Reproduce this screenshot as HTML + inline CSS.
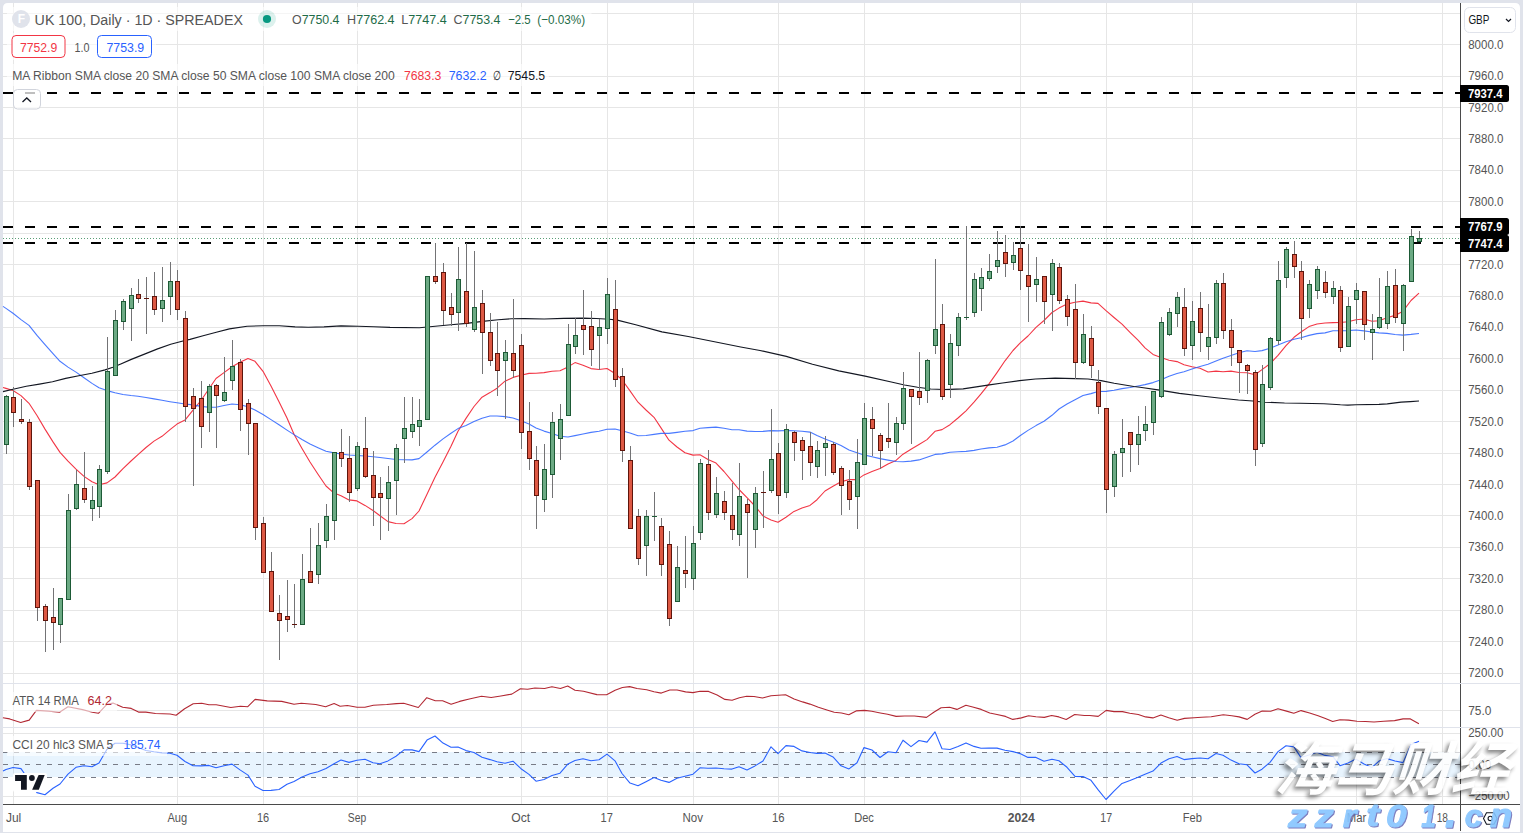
<!DOCTYPE html>
<html><head><meta charset="utf-8"><title>UK 100 chart</title><style>
html,body{margin:0;padding:0;}
body{width:1523px;height:833px;background:#e0e3eb;position:relative;overflow:hidden;}
svg{position:absolute;left:0;top:0;}
</style></head><body>
<svg width="1523" height="833" viewBox="0 0 1523 833">
<path d="M3 832V8Q3 3 8 3H1515Q1520 3 1520 8V832Z" fill="#fff"/>
<g shape-rendering="crispEdges">
<rect x="13" y="3" width="1" height="801" fill="#e6e6e6"/>
<rect x="177" y="3" width="1" height="801" fill="#e6e6e6"/>
<rect x="263" y="3" width="1" height="801" fill="#e6e6e6"/>
<rect x="357" y="3" width="1" height="801" fill="#e6e6e6"/>
<rect x="521" y="3" width="1" height="801" fill="#e6e6e6"/>
<rect x="607" y="3" width="1" height="801" fill="#e6e6e6"/>
<rect x="693" y="3" width="1" height="801" fill="#e6e6e6"/>
<rect x="778" y="3" width="1" height="801" fill="#e6e6e6"/>
<rect x="864" y="3" width="1" height="801" fill="#e6e6e6"/>
<rect x="1020" y="3" width="1" height="801" fill="#e6e6e6"/>
<rect x="1106" y="3" width="1" height="801" fill="#e6e6e6"/>
<rect x="1192" y="3" width="1" height="801" fill="#e6e6e6"/>
<rect x="1356" y="3" width="1" height="801" fill="#e6e6e6"/>
<rect x="1442" y="3" width="1" height="801" fill="#e6e6e6"/>
<rect x="3" y="13" width="1457" height="1" fill="#e6e6e6"/>
<rect x="3" y="44" width="1457" height="1" fill="#e6e6e6"/>
<rect x="3" y="76" width="1457" height="1" fill="#e6e6e6"/>
<rect x="3" y="107" width="1457" height="1" fill="#e6e6e6"/>
<rect x="3" y="138" width="1457" height="1" fill="#e6e6e6"/>
<rect x="3" y="170" width="1457" height="1" fill="#e6e6e6"/>
<rect x="3" y="201" width="1457" height="1" fill="#e6e6e6"/>
<rect x="3" y="233" width="1457" height="1" fill="#e6e6e6"/>
<rect x="3" y="264" width="1457" height="1" fill="#e6e6e6"/>
<rect x="3" y="296" width="1457" height="1" fill="#e6e6e6"/>
<rect x="3" y="327" width="1457" height="1" fill="#e6e6e6"/>
<rect x="3" y="358" width="1457" height="1" fill="#e6e6e6"/>
<rect x="3" y="390" width="1457" height="1" fill="#e6e6e6"/>
<rect x="3" y="421" width="1457" height="1" fill="#e6e6e6"/>
<rect x="3" y="453" width="1457" height="1" fill="#e6e6e6"/>
<rect x="3" y="484" width="1457" height="1" fill="#e6e6e6"/>
<rect x="3" y="515" width="1457" height="1" fill="#e6e6e6"/>
<rect x="3" y="547" width="1457" height="1" fill="#e6e6e6"/>
<rect x="3" y="578" width="1457" height="1" fill="#e6e6e6"/>
<rect x="3" y="610" width="1457" height="1" fill="#e6e6e6"/>
<rect x="3" y="641" width="1457" height="1" fill="#e6e6e6"/>
<rect x="3" y="673" width="1457" height="1" fill="#e6e6e6"/>
<rect x="3" y="710" width="1457" height="1" fill="#e6e6e6"/>
<rect x="3" y="733" width="1457" height="1" fill="#e6e6e6"/>
<rect x="3" y="796" width="1457" height="1" fill="#e6e6e6"/>
</g>
<rect x="3" y="752" width="1457" height="25" fill="#2196f3" fill-opacity="0.1" shape-rendering="crispEdges"/>
<line x1="3" y1="752.5" x2="1460" y2="752.5" stroke="#787b86" stroke-width="1" stroke-dasharray="5 6" shape-rendering="crispEdges"/>
<line x1="3" y1="764.5" x2="1460" y2="764.5" stroke="#787b86" stroke-width="1" stroke-dasharray="5 6" shape-rendering="crispEdges"/>
<line x1="3" y1="777.5" x2="1460" y2="777.5" stroke="#787b86" stroke-width="1" stroke-dasharray="5 6" shape-rendering="crispEdges"/>
<line x1="3" y1="93" x2="1460" y2="93" stroke="#000" stroke-width="2" stroke-dasharray="10 12" shape-rendering="crispEdges"/>
<line x1="3" y1="227" x2="1460" y2="227" stroke="#000" stroke-width="2" stroke-dasharray="10 12" shape-rendering="crispEdges"/>
<line x1="3" y1="243" x2="1460" y2="243" stroke="#000" stroke-width="2" stroke-dasharray="10 12" shape-rendering="crispEdges"/>
<line x1="3" y1="238.5" x2="1460" y2="238.5" stroke="#5a9e76" stroke-width="1" stroke-dasharray="1 2" shape-rendering="crispEdges"/>
<polyline points="3.0,387.5 6.0,388.4 13.0,390.5 21.0,395.6 29.0,403.3 37.0,415.5 45.0,429.1 53.0,441.9 60.0,452.4 68.0,461.2 76.0,469.2 84.0,476.4 92.0,481.7 99.0,484.7 107.0,482.9 115.0,477.0 123.0,468.7 131.0,461.0 138.0,454.7 146.0,447.5 154.0,441.1 162.0,436.3 170.0,429.7 177.0,424.1 185.0,420.1 193.0,410.2 201.0,400.5 209.0,388.7 216.0,378.5 224.0,372.6 232.0,366.7 240.0,362.2 248.0,358.4 255.0,361.3 263.0,371.3 271.0,385.9 279.0,401.8 287.0,418.0 294.0,434.3 302.0,448.4 310.0,462.0 318.0,474.2 326.0,486.0 334.0,493.1 341.0,495.7 349.0,499.9 357.0,500.9 365.0,505.4 373.0,510.5 380.0,515.8 388.0,521.6 396.0,523.5 404.0,523.7 412.0,518.6 419.0,511.0 427.0,494.3 435.0,477.3 443.0,461.9 451.0,446.3 458.0,431.3 466.0,418.4 474.0,406.5 482.0,397.2 490.0,392.6 497.0,388.2 505.0,381.2 513.0,377.4 521.0,375.3 529.0,373.4 536.0,373.3 544.0,372.6 552.0,371.3 560.0,370.8 568.0,366.9 575.0,362.6 583.0,365.2 591.0,368.6 599.0,369.5 607.0,368.5 615.0,373.5 622.0,379.8 630.0,390.9 638.0,402.2 646.0,410.0 654.0,417.3 661.0,427.9 669.0,440.2 677.0,447.0 685.0,452.7 693.0,455.1 700.0,454.8 708.0,459.4 716.0,463.1 724.0,471.5 732.0,481.2 739.0,489.5 747.0,497.7 755.0,506.0 763.0,515.9 771.0,519.9 778.0,522.2 786.0,517.2 794.0,511.4 802.0,508.1 810.0,505.4 817.0,499.7 825.0,491.0 833.0,486.2 841.0,481.8 849.0,479.6 857.0,479.6 864.0,474.9 872.0,471.6 880.0,468.5 888.0,464.0 896.0,460.4 903.0,454.2 911.0,449.3 919.0,444.5 927.0,439.6 935.0,431.3 942.0,429.6 950.0,424.7 958.0,418.0 966.0,410.8 974.0,402.2 981.0,393.9 989.0,383.9 997.0,372.6 1005.0,360.8 1013.0,350.5 1020.0,343.1 1028.0,336.0 1036.0,327.4 1044.0,320.5 1052.0,312.5 1059.0,308.1 1067.0,304.1 1075.0,302.3 1083.0,301.1 1091.0,302.9 1098.0,303.4 1106.0,310.7 1114.0,317.5 1122.0,324.1 1130.0,332.3 1138.0,340.2 1145.0,347.9 1153.0,354.4 1161.0,357.4 1169.0,360.2 1177.0,361.6 1184.0,364.7 1192.0,366.8 1200.0,368.3 1208.0,372.0 1216.0,371.1 1223.0,371.8 1231.0,371.1 1239.0,372.5 1247.0,372.7 1255.0,374.8 1262.0,369.6 1270.0,363.8 1278.0,355.4 1286.0,345.7 1294.0,337.3 1301.0,332.0 1309.0,326.6 1317.0,324.0 1325.0,323.0 1333.0,322.6 1340.0,322.5 1348.0,321.8 1356.0,319.7 1364.0,319.0 1372.0,321.3 1379.0,320.7 1387.0,317.7 1395.0,315.4 1403.0,311.2 1411.0,300.5 1419.0,293.2" fill="none" stroke="#f23645" stroke-width="1.1" stroke-linejoin="round"/>
<polyline points="3.0,306.4 6.0,308.4 13.0,313.2 21.0,319.6 29.0,325.4 37.0,335.4 45.0,344.7 53.0,353.7 60.0,361.3 68.0,367.1 76.0,372.1 84.0,377.7 92.0,383.4 99.0,387.8 107.0,390.6 115.0,392.7 123.0,394.5 131.0,395.5 138.0,396.2 146.0,397.5 154.0,398.9 162.0,400.3 170.0,401.7 177.0,402.8 185.0,404.0 193.0,404.9 201.0,406.4 209.0,407.2 216.0,407.2 224.0,405.5 232.0,404.0 240.0,404.8 248.0,406.8 255.0,410.1 263.0,414.5 271.0,419.6 279.0,424.8 287.0,430.1 294.0,434.6 302.0,439.5 310.0,444.0 318.0,447.7 326.0,451.3 334.0,452.9 341.0,454.0 349.0,455.0 357.0,455.5 365.0,456.0 373.0,456.8 380.0,457.5 388.0,458.5 396.0,459.5 404.0,459.8 412.0,459.9 419.0,458.6 427.0,452.0 435.0,445.2 443.0,438.9 451.0,433.2 458.0,428.6 466.0,425.4 474.0,421.6 482.0,418.2 490.0,416.0 497.0,416.0 505.0,416.6 513.0,418.0 521.0,420.8 529.0,424.0 536.0,427.9 544.0,431.1 552.0,433.5 560.0,436.3 568.0,437.0 575.0,435.6 583.0,434.0 591.0,432.4 599.0,431.3 607.0,429.2 615.0,429.0 622.0,430.7 630.0,433.0 638.0,435.7 646.0,435.5 654.0,434.4 661.0,433.4 669.0,433.4 677.0,432.4 685.0,431.3 693.0,430.6 700.0,428.2 708.0,427.6 716.0,427.1 724.0,428.3 732.0,429.7 739.0,429.8 747.0,431.1 755.0,431.5 763.0,431.4 771.0,430.6 778.0,430.9 786.0,430.5 794.0,430.8 802.0,431.3 810.0,432.1 817.0,435.6 825.0,438.9 833.0,442.1 841.0,445.5 849.0,449.9 857.0,452.7 864.0,454.9 872.0,456.8 880.0,458.6 888.0,460.1 896.0,461.5 903.0,461.8 911.0,461.1 919.0,459.9 927.0,457.2 935.0,454.4 942.0,453.9 950.0,452.3 958.0,451.8 966.0,451.4 974.0,450.4 981.0,449.0 989.0,447.9 997.0,447.2 1005.0,444.9 1013.0,441.0 1020.0,435.8 1028.0,430.4 1036.0,425.6 1044.0,421.3 1052.0,415.3 1059.0,409.0 1067.0,404.0 1075.0,399.7 1083.0,395.5 1091.0,393.6 1098.0,391.5 1106.0,391.4 1114.0,390.2 1122.0,388.6 1130.0,387.5 1138.0,386.0 1145.0,384.6 1153.0,382.6 1161.0,379.8 1169.0,376.2 1177.0,373.5 1184.0,371.7 1192.0,369.1 1200.0,366.5 1208.0,364.2 1216.0,361.0 1223.0,358.2 1231.0,355.4 1239.0,352.7 1247.0,350.8 1255.0,351.5 1262.0,350.6 1270.0,348.3 1278.0,345.1 1286.0,341.7 1294.0,339.2 1301.0,337.7 1309.0,335.4 1317.0,333.6 1325.0,332.9 1333.0,330.7 1340.0,330.8 1348.0,330.6 1356.0,330.0 1364.0,330.9 1372.0,332.0 1379.0,332.9 1387.0,333.4 1395.0,334.5 1403.0,335.1 1411.0,334.4 1419.0,333.5" fill="none" stroke="#2962ff" stroke-width="1.1" stroke-opacity="0.85" stroke-linejoin="round"/>
<polyline points="3.0,391.6 13.1,389.2 26.3,386.3 39.4,384.1 52.5,381.7 65.7,378.4 78.8,375.8 91.9,373.2 105.1,369.9 112.9,367.3 120.8,364.0 131.3,359.4 144.5,354.1 157.6,348.9 170.7,344.3 183.9,340.7 190.0,339.4 203.1,335.7 216.3,332.2 229.4,328.9 247.1,326.3 263.5,325.7 279.3,325.7 295.1,326.9 308.2,327.2 324.0,326.9 341.0,325.9 358.1,326.3 373.8,326.7 390.0,327.4 419.4,327.8 435.2,326.3 450.9,324.7 466.7,323.4 482.4,321.4 498.2,319.7 511.3,318.8 524.5,318.6 544.2,319.0 563.8,318.4 583.1,318.1 596.3,318.5 609.4,319.2 617.3,320.1 635.7,324.7 661.9,331.9 688.2,336.5 714.5,341.8 740.7,347.0 760.0,350.5 786.3,356.4 812.5,364.3 838.8,370.9 865.1,376.1 891.3,382.0 904.5,385.0 917.6,387.3 930.7,389.0 943.8,389.5 950.0,389.4 963.1,388.9 976.3,386.9 989.4,384.9 1002.5,383.0 1019.6,380.6 1035.4,379.0 1055.1,378.1 1074.8,378.6 1087.9,379.0 1101.0,380.6 1114.2,383.2 1133.8,386.5 1140.0,387.2 1159.7,390.1 1179.4,393.4 1199.1,395.7 1218.8,398.0 1238.5,400.0 1252.9,401.0 1264.8,402.2 1284.5,403.0 1300.0,403.2 1323.9,403.7 1340.4,404.8 1347.8,405.1 1356.1,404.8 1379.0,404.4 1387.3,403.9 1401.1,402.1 1410.3,401.6 1419.0,401.0" fill="none" stroke="#131722" stroke-width="1.15" stroke-linejoin="round"/>
<g shape-rendering="crispEdges">
<rect x="6" y="395" width="1" height="59" fill="#737375"/>
<rect x="4" y="396" width="5" height="49" fill="#1d5a36"/>
<rect x="5" y="397" width="3" height="47" fill="#6caa84"/>
<rect x="13" y="387" width="1" height="40" fill="#737375"/>
<rect x="11" y="397" width="5" height="16" fill="#5e150c"/>
<rect x="12" y="398" width="3" height="14" fill="#dd5843"/>
<rect x="21" y="399" width="1" height="25" fill="#737375"/>
<rect x="19" y="419" width="5" height="3" fill="#5e150c"/>
<rect x="20" y="420" width="3" height="1" fill="#dd5843"/>
<rect x="29" y="419" width="1" height="71" fill="#737375"/>
<rect x="27" y="422" width="5" height="65" fill="#5e150c"/>
<rect x="28" y="423" width="3" height="63" fill="#dd5843"/>
<rect x="37" y="480" width="1" height="141" fill="#737375"/>
<rect x="35" y="480" width="5" height="128" fill="#5e150c"/>
<rect x="36" y="481" width="3" height="126" fill="#dd5843"/>
<rect x="45" y="604" width="1" height="48" fill="#737375"/>
<rect x="43" y="606" width="5" height="15" fill="#5e150c"/>
<rect x="44" y="607" width="3" height="13" fill="#dd5843"/>
<rect x="53" y="588" width="1" height="62" fill="#737375"/>
<rect x="51" y="617" width="5" height="6" fill="#5e150c"/>
<rect x="52" y="618" width="3" height="4" fill="#dd5843"/>
<rect x="60" y="598" width="1" height="45" fill="#737375"/>
<rect x="58" y="598" width="5" height="27" fill="#1d5a36"/>
<rect x="59" y="599" width="3" height="25" fill="#6caa84"/>
<rect x="68" y="494" width="1" height="106" fill="#737375"/>
<rect x="66" y="510" width="5" height="90" fill="#1d5a36"/>
<rect x="67" y="511" width="3" height="88" fill="#6caa84"/>
<rect x="76" y="470" width="1" height="40" fill="#737375"/>
<rect x="74" y="484" width="5" height="25" fill="#1d5a36"/>
<rect x="75" y="485" width="3" height="23" fill="#6caa84"/>
<rect x="84" y="452" width="1" height="51" fill="#737375"/>
<rect x="82" y="488" width="5" height="12" fill="#5e150c"/>
<rect x="83" y="489" width="3" height="10" fill="#dd5843"/>
<rect x="92" y="486" width="1" height="35" fill="#737375"/>
<rect x="90" y="500" width="5" height="9" fill="#1d5a36"/>
<rect x="91" y="501" width="3" height="7" fill="#6caa84"/>
<rect x="99" y="465" width="1" height="53" fill="#737375"/>
<rect x="97" y="469" width="5" height="38" fill="#1d5a36"/>
<rect x="98" y="470" width="3" height="36" fill="#6caa84"/>
<rect x="107" y="337" width="1" height="137" fill="#737375"/>
<rect x="105" y="371" width="5" height="101" fill="#1d5a36"/>
<rect x="106" y="372" width="3" height="99" fill="#6caa84"/>
<rect x="115" y="310" width="1" height="66" fill="#737375"/>
<rect x="113" y="320" width="5" height="56" fill="#1d5a36"/>
<rect x="114" y="321" width="3" height="54" fill="#6caa84"/>
<rect x="123" y="299" width="1" height="31" fill="#737375"/>
<rect x="121" y="301" width="5" height="21" fill="#1d5a36"/>
<rect x="122" y="302" width="3" height="19" fill="#6caa84"/>
<rect x="131" y="288" width="1" height="53" fill="#737375"/>
<rect x="129" y="295" width="5" height="14" fill="#1d5a36"/>
<rect x="130" y="296" width="3" height="12" fill="#6caa84"/>
<rect x="138" y="279" width="1" height="24" fill="#737375"/>
<rect x="136" y="294" width="5" height="5" fill="#5e150c"/>
<rect x="137" y="295" width="3" height="3" fill="#dd5843"/>
<rect x="146" y="277" width="1" height="57" fill="#737375"/>
<rect x="144" y="298" width="5" height="1" fill="#5e150c"/>
<rect x="154" y="272" width="1" height="43" fill="#737375"/>
<rect x="152" y="296" width="5" height="14" fill="#5e150c"/>
<rect x="153" y="297" width="3" height="12" fill="#dd5843"/>
<rect x="162" y="267" width="1" height="55" fill="#737375"/>
<rect x="160" y="300" width="5" height="9" fill="#1d5a36"/>
<rect x="161" y="301" width="3" height="7" fill="#6caa84"/>
<rect x="170" y="262" width="1" height="53" fill="#737375"/>
<rect x="168" y="281" width="5" height="16" fill="#1d5a36"/>
<rect x="169" y="282" width="3" height="14" fill="#6caa84"/>
<rect x="177" y="270" width="1" height="50" fill="#737375"/>
<rect x="175" y="281" width="5" height="29" fill="#5e150c"/>
<rect x="176" y="282" width="3" height="27" fill="#dd5843"/>
<rect x="185" y="311" width="1" height="111" fill="#737375"/>
<rect x="183" y="318" width="5" height="89" fill="#5e150c"/>
<rect x="184" y="319" width="3" height="87" fill="#dd5843"/>
<rect x="193" y="388" width="1" height="98" fill="#737375"/>
<rect x="191" y="396" width="5" height="13" fill="#5e150c"/>
<rect x="192" y="397" width="3" height="11" fill="#dd5843"/>
<rect x="201" y="381" width="1" height="67" fill="#737375"/>
<rect x="199" y="398" width="5" height="29" fill="#5e150c"/>
<rect x="200" y="399" width="3" height="27" fill="#dd5843"/>
<rect x="209" y="384" width="1" height="48" fill="#737375"/>
<rect x="207" y="386" width="5" height="27" fill="#1d5a36"/>
<rect x="208" y="387" width="3" height="25" fill="#6caa84"/>
<rect x="216" y="384" width="1" height="64" fill="#737375"/>
<rect x="214" y="385" width="5" height="11" fill="#5e150c"/>
<rect x="215" y="386" width="3" height="9" fill="#dd5843"/>
<rect x="224" y="357" width="1" height="45" fill="#737375"/>
<rect x="222" y="392" width="5" height="9" fill="#1d5a36"/>
<rect x="223" y="393" width="3" height="7" fill="#6caa84"/>
<rect x="232" y="340" width="1" height="50" fill="#737375"/>
<rect x="230" y="366" width="5" height="15" fill="#1d5a36"/>
<rect x="231" y="367" width="3" height="13" fill="#6caa84"/>
<rect x="240" y="359" width="1" height="72" fill="#737375"/>
<rect x="238" y="362" width="5" height="48" fill="#5e150c"/>
<rect x="239" y="363" width="3" height="46" fill="#dd5843"/>
<rect x="248" y="399" width="1" height="56" fill="#737375"/>
<rect x="246" y="403" width="5" height="21" fill="#5e150c"/>
<rect x="247" y="404" width="3" height="19" fill="#dd5843"/>
<rect x="255" y="423" width="1" height="117" fill="#737375"/>
<rect x="253" y="423" width="5" height="105" fill="#5e150c"/>
<rect x="254" y="424" width="3" height="103" fill="#dd5843"/>
<rect x="263" y="517" width="1" height="55" fill="#737375"/>
<rect x="261" y="523" width="5" height="50" fill="#5e150c"/>
<rect x="262" y="524" width="3" height="48" fill="#dd5843"/>
<rect x="271" y="552" width="1" height="60" fill="#737375"/>
<rect x="269" y="571" width="5" height="41" fill="#5e150c"/>
<rect x="270" y="572" width="3" height="39" fill="#dd5843"/>
<rect x="279" y="595" width="1" height="65" fill="#737375"/>
<rect x="277" y="613" width="5" height="8" fill="#5e150c"/>
<rect x="278" y="614" width="3" height="6" fill="#dd5843"/>
<rect x="287" y="580" width="1" height="52" fill="#737375"/>
<rect x="285" y="616" width="5" height="4" fill="#5e150c"/>
<rect x="286" y="617" width="3" height="2" fill="#dd5843"/>
<rect x="294" y="584" width="1" height="44" fill="#737375"/>
<rect x="292" y="624" width="5" height="1" fill="#5e150c"/>
<rect x="302" y="554" width="1" height="70" fill="#737375"/>
<rect x="300" y="579" width="5" height="46" fill="#1d5a36"/>
<rect x="301" y="580" width="3" height="44" fill="#6caa84"/>
<rect x="310" y="528" width="1" height="54" fill="#737375"/>
<rect x="308" y="571" width="5" height="12" fill="#5e150c"/>
<rect x="309" y="572" width="3" height="10" fill="#dd5843"/>
<rect x="318" y="523" width="1" height="61" fill="#737375"/>
<rect x="316" y="545" width="5" height="30" fill="#1d5a36"/>
<rect x="317" y="546" width="3" height="28" fill="#6caa84"/>
<rect x="326" y="504" width="1" height="44" fill="#737375"/>
<rect x="324" y="516" width="5" height="25" fill="#1d5a36"/>
<rect x="325" y="517" width="3" height="23" fill="#6caa84"/>
<rect x="334" y="452" width="1" height="88" fill="#737375"/>
<rect x="332" y="452" width="5" height="69" fill="#1d5a36"/>
<rect x="333" y="453" width="3" height="67" fill="#6caa84"/>
<rect x="341" y="429" width="1" height="38" fill="#737375"/>
<rect x="339" y="452" width="5" height="7" fill="#5e150c"/>
<rect x="340" y="453" width="3" height="5" fill="#dd5843"/>
<rect x="349" y="436" width="1" height="66" fill="#737375"/>
<rect x="347" y="458" width="5" height="35" fill="#5e150c"/>
<rect x="348" y="459" width="3" height="33" fill="#dd5843"/>
<rect x="357" y="442" width="1" height="49" fill="#737375"/>
<rect x="355" y="446" width="5" height="43" fill="#1d5a36"/>
<rect x="356" y="447" width="3" height="41" fill="#6caa84"/>
<rect x="365" y="417" width="1" height="61" fill="#737375"/>
<rect x="363" y="448" width="5" height="29" fill="#5e150c"/>
<rect x="364" y="449" width="3" height="27" fill="#dd5843"/>
<rect x="373" y="451" width="1" height="75" fill="#737375"/>
<rect x="371" y="475" width="5" height="23" fill="#5e150c"/>
<rect x="372" y="476" width="3" height="21" fill="#dd5843"/>
<rect x="380" y="477" width="1" height="63" fill="#737375"/>
<rect x="378" y="493" width="5" height="5" fill="#5e150c"/>
<rect x="379" y="494" width="3" height="3" fill="#dd5843"/>
<rect x="388" y="466" width="1" height="65" fill="#737375"/>
<rect x="386" y="482" width="5" height="17" fill="#1d5a36"/>
<rect x="387" y="483" width="3" height="15" fill="#6caa84"/>
<rect x="396" y="444" width="1" height="71" fill="#737375"/>
<rect x="394" y="448" width="5" height="33" fill="#1d5a36"/>
<rect x="395" y="449" width="3" height="31" fill="#6caa84"/>
<rect x="404" y="397" width="1" height="66" fill="#737375"/>
<rect x="402" y="428" width="5" height="11" fill="#1d5a36"/>
<rect x="403" y="429" width="3" height="9" fill="#6caa84"/>
<rect x="412" y="397" width="1" height="41" fill="#737375"/>
<rect x="410" y="424" width="5" height="8" fill="#1d5a36"/>
<rect x="411" y="425" width="3" height="6" fill="#6caa84"/>
<rect x="419" y="399" width="1" height="47" fill="#737375"/>
<rect x="417" y="420" width="5" height="7" fill="#1d5a36"/>
<rect x="418" y="421" width="3" height="5" fill="#6caa84"/>
<rect x="427" y="276" width="1" height="144" fill="#737375"/>
<rect x="425" y="276" width="5" height="144" fill="#1d5a36"/>
<rect x="426" y="277" width="3" height="142" fill="#6caa84"/>
<rect x="435" y="243" width="1" height="41" fill="#737375"/>
<rect x="433" y="276" width="5" height="6" fill="#5e150c"/>
<rect x="434" y="277" width="3" height="4" fill="#dd5843"/>
<rect x="443" y="263" width="1" height="62" fill="#737375"/>
<rect x="441" y="272" width="5" height="39" fill="#5e150c"/>
<rect x="442" y="273" width="3" height="37" fill="#dd5843"/>
<rect x="451" y="293" width="1" height="33" fill="#737375"/>
<rect x="449" y="307" width="5" height="8" fill="#5e150c"/>
<rect x="450" y="308" width="3" height="6" fill="#dd5843"/>
<rect x="458" y="247" width="1" height="84" fill="#737375"/>
<rect x="456" y="279" width="5" height="34" fill="#1d5a36"/>
<rect x="457" y="280" width="3" height="32" fill="#6caa84"/>
<rect x="466" y="243" width="1" height="84" fill="#737375"/>
<rect x="464" y="291" width="5" height="33" fill="#5e150c"/>
<rect x="465" y="292" width="3" height="31" fill="#dd5843"/>
<rect x="474" y="251" width="1" height="81" fill="#737375"/>
<rect x="472" y="307" width="5" height="23" fill="#1d5a36"/>
<rect x="473" y="308" width="3" height="21" fill="#6caa84"/>
<rect x="482" y="290" width="1" height="84" fill="#737375"/>
<rect x="480" y="303" width="5" height="30" fill="#5e150c"/>
<rect x="481" y="304" width="3" height="28" fill="#dd5843"/>
<rect x="490" y="313" width="1" height="53" fill="#737375"/>
<rect x="488" y="332" width="5" height="29" fill="#5e150c"/>
<rect x="489" y="333" width="3" height="27" fill="#dd5843"/>
<rect x="497" y="322" width="1" height="74" fill="#737375"/>
<rect x="495" y="353" width="5" height="18" fill="#5e150c"/>
<rect x="496" y="354" width="3" height="16" fill="#dd5843"/>
<rect x="505" y="340" width="1" height="79" fill="#737375"/>
<rect x="503" y="352" width="5" height="9" fill="#1d5a36"/>
<rect x="504" y="353" width="3" height="7" fill="#6caa84"/>
<rect x="513" y="299" width="1" height="79" fill="#737375"/>
<rect x="511" y="353" width="5" height="18" fill="#5e150c"/>
<rect x="512" y="354" width="3" height="16" fill="#dd5843"/>
<rect x="521" y="334" width="1" height="115" fill="#737375"/>
<rect x="519" y="345" width="5" height="88" fill="#5e150c"/>
<rect x="520" y="346" width="3" height="86" fill="#dd5843"/>
<rect x="529" y="402" width="1" height="68" fill="#737375"/>
<rect x="527" y="431" width="5" height="28" fill="#5e150c"/>
<rect x="528" y="432" width="3" height="26" fill="#dd5843"/>
<rect x="536" y="446" width="1" height="83" fill="#737375"/>
<rect x="534" y="460" width="5" height="36" fill="#5e150c"/>
<rect x="535" y="461" width="3" height="34" fill="#dd5843"/>
<rect x="544" y="444" width="1" height="68" fill="#737375"/>
<rect x="542" y="469" width="5" height="31" fill="#1d5a36"/>
<rect x="543" y="470" width="3" height="29" fill="#6caa84"/>
<rect x="552" y="412" width="1" height="86" fill="#737375"/>
<rect x="550" y="422" width="5" height="53" fill="#1d5a36"/>
<rect x="551" y="423" width="3" height="51" fill="#6caa84"/>
<rect x="560" y="404" width="1" height="56" fill="#737375"/>
<rect x="558" y="419" width="5" height="20" fill="#1d5a36"/>
<rect x="559" y="420" width="3" height="18" fill="#6caa84"/>
<rect x="568" y="324" width="1" height="91" fill="#737375"/>
<rect x="566" y="344" width="5" height="72" fill="#1d5a36"/>
<rect x="567" y="345" width="3" height="70" fill="#6caa84"/>
<rect x="575" y="318" width="1" height="36" fill="#737375"/>
<rect x="573" y="335" width="5" height="12" fill="#1d5a36"/>
<rect x="574" y="336" width="3" height="10" fill="#6caa84"/>
<rect x="583" y="290" width="1" height="65" fill="#737375"/>
<rect x="581" y="325" width="5" height="5" fill="#5e150c"/>
<rect x="582" y="326" width="3" height="3" fill="#dd5843"/>
<rect x="591" y="311" width="1" height="55" fill="#737375"/>
<rect x="589" y="326" width="5" height="24" fill="#5e150c"/>
<rect x="590" y="327" width="3" height="22" fill="#dd5843"/>
<rect x="599" y="319" width="1" height="51" fill="#737375"/>
<rect x="597" y="327" width="5" height="9" fill="#1d5a36"/>
<rect x="598" y="328" width="3" height="7" fill="#6caa84"/>
<rect x="607" y="278" width="1" height="66" fill="#737375"/>
<rect x="605" y="294" width="5" height="35" fill="#1d5a36"/>
<rect x="606" y="295" width="3" height="33" fill="#6caa84"/>
<rect x="615" y="280" width="1" height="107" fill="#737375"/>
<rect x="613" y="309" width="5" height="71" fill="#5e150c"/>
<rect x="614" y="310" width="3" height="69" fill="#dd5843"/>
<rect x="622" y="368" width="1" height="94" fill="#737375"/>
<rect x="620" y="376" width="5" height="75" fill="#5e150c"/>
<rect x="621" y="377" width="3" height="73" fill="#dd5843"/>
<rect x="630" y="446" width="1" height="82" fill="#737375"/>
<rect x="628" y="460" width="5" height="69" fill="#5e150c"/>
<rect x="629" y="461" width="3" height="67" fill="#dd5843"/>
<rect x="638" y="509" width="1" height="56" fill="#737375"/>
<rect x="636" y="516" width="5" height="43" fill="#5e150c"/>
<rect x="637" y="517" width="3" height="41" fill="#dd5843"/>
<rect x="646" y="510" width="1" height="66" fill="#737375"/>
<rect x="644" y="516" width="5" height="30" fill="#1d5a36"/>
<rect x="645" y="517" width="3" height="28" fill="#6caa84"/>
<rect x="654" y="492" width="1" height="49" fill="#737375"/>
<rect x="652" y="516" width="5" height="1" fill="#1d5a36"/>
<rect x="661" y="518" width="1" height="58" fill="#737375"/>
<rect x="659" y="526" width="5" height="39" fill="#5e150c"/>
<rect x="660" y="527" width="3" height="37" fill="#dd5843"/>
<rect x="669" y="531" width="1" height="95" fill="#737375"/>
<rect x="667" y="544" width="5" height="75" fill="#5e150c"/>
<rect x="668" y="545" width="3" height="73" fill="#dd5843"/>
<rect x="677" y="546" width="1" height="55" fill="#737375"/>
<rect x="675" y="567" width="5" height="35" fill="#1d5a36"/>
<rect x="676" y="568" width="3" height="33" fill="#6caa84"/>
<rect x="685" y="536" width="1" height="52" fill="#737375"/>
<rect x="683" y="570" width="5" height="4" fill="#5e150c"/>
<rect x="684" y="571" width="3" height="2" fill="#dd5843"/>
<rect x="693" y="526" width="1" height="64" fill="#737375"/>
<rect x="691" y="543" width="5" height="36" fill="#1d5a36"/>
<rect x="692" y="544" width="3" height="34" fill="#6caa84"/>
<rect x="700" y="459" width="1" height="81" fill="#737375"/>
<rect x="698" y="463" width="5" height="70" fill="#1d5a36"/>
<rect x="699" y="464" width="3" height="68" fill="#6caa84"/>
<rect x="708" y="450" width="1" height="70" fill="#737375"/>
<rect x="706" y="464" width="5" height="49" fill="#5e150c"/>
<rect x="707" y="465" width="3" height="47" fill="#dd5843"/>
<rect x="716" y="477" width="1" height="41" fill="#737375"/>
<rect x="714" y="493" width="5" height="22" fill="#1d5a36"/>
<rect x="715" y="494" width="3" height="20" fill="#6caa84"/>
<rect x="724" y="491" width="1" height="29" fill="#737375"/>
<rect x="722" y="501" width="5" height="12" fill="#5e150c"/>
<rect x="723" y="502" width="3" height="10" fill="#dd5843"/>
<rect x="732" y="483" width="1" height="57" fill="#737375"/>
<rect x="730" y="515" width="5" height="15" fill="#5e150c"/>
<rect x="731" y="516" width="3" height="13" fill="#dd5843"/>
<rect x="739" y="463" width="1" height="83" fill="#737375"/>
<rect x="737" y="496" width="5" height="39" fill="#1d5a36"/>
<rect x="738" y="497" width="3" height="37" fill="#6caa84"/>
<rect x="747" y="499" width="1" height="79" fill="#737375"/>
<rect x="745" y="504" width="5" height="9" fill="#5e150c"/>
<rect x="746" y="505" width="3" height="7" fill="#dd5843"/>
<rect x="755" y="487" width="1" height="61" fill="#737375"/>
<rect x="753" y="493" width="5" height="37" fill="#1d5a36"/>
<rect x="754" y="494" width="3" height="35" fill="#6caa84"/>
<rect x="763" y="471" width="1" height="57" fill="#737375"/>
<rect x="761" y="492" width="5" height="1" fill="#5e150c"/>
<rect x="771" y="409" width="1" height="84" fill="#737375"/>
<rect x="769" y="459" width="5" height="32" fill="#1d5a36"/>
<rect x="770" y="460" width="3" height="30" fill="#6caa84"/>
<rect x="778" y="443" width="1" height="71" fill="#737375"/>
<rect x="776" y="453" width="5" height="43" fill="#5e150c"/>
<rect x="777" y="454" width="3" height="41" fill="#dd5843"/>
<rect x="786" y="424" width="1" height="74" fill="#737375"/>
<rect x="784" y="429" width="5" height="64" fill="#1d5a36"/>
<rect x="785" y="430" width="3" height="62" fill="#6caa84"/>
<rect x="794" y="431" width="1" height="30" fill="#737375"/>
<rect x="792" y="432" width="5" height="11" fill="#5e150c"/>
<rect x="793" y="433" width="3" height="9" fill="#dd5843"/>
<rect x="802" y="437" width="1" height="43" fill="#737375"/>
<rect x="800" y="440" width="5" height="11" fill="#5e150c"/>
<rect x="801" y="441" width="3" height="9" fill="#dd5843"/>
<rect x="810" y="432" width="1" height="44" fill="#737375"/>
<rect x="808" y="446" width="5" height="17" fill="#5e150c"/>
<rect x="809" y="447" width="3" height="15" fill="#dd5843"/>
<rect x="817" y="441" width="1" height="37" fill="#737375"/>
<rect x="815" y="450" width="5" height="17" fill="#1d5a36"/>
<rect x="816" y="451" width="3" height="15" fill="#6caa84"/>
<rect x="825" y="436" width="1" height="40" fill="#737375"/>
<rect x="823" y="443" width="5" height="5" fill="#1d5a36"/>
<rect x="824" y="444" width="3" height="3" fill="#6caa84"/>
<rect x="833" y="442" width="1" height="33" fill="#737375"/>
<rect x="831" y="444" width="5" height="29" fill="#5e150c"/>
<rect x="832" y="445" width="3" height="27" fill="#dd5843"/>
<rect x="841" y="466" width="1" height="49" fill="#737375"/>
<rect x="839" y="468" width="5" height="18" fill="#5e150c"/>
<rect x="840" y="469" width="3" height="16" fill="#dd5843"/>
<rect x="849" y="470" width="1" height="40" fill="#737375"/>
<rect x="847" y="481" width="5" height="19" fill="#5e150c"/>
<rect x="848" y="482" width="3" height="17" fill="#dd5843"/>
<rect x="857" y="439" width="1" height="90" fill="#737375"/>
<rect x="855" y="462" width="5" height="35" fill="#1d5a36"/>
<rect x="856" y="463" width="3" height="33" fill="#6caa84"/>
<rect x="864" y="403" width="1" height="61" fill="#737375"/>
<rect x="862" y="418" width="5" height="47" fill="#1d5a36"/>
<rect x="863" y="419" width="3" height="45" fill="#6caa84"/>
<rect x="872" y="407" width="1" height="49" fill="#737375"/>
<rect x="870" y="419" width="5" height="10" fill="#5e150c"/>
<rect x="871" y="420" width="3" height="8" fill="#dd5843"/>
<rect x="880" y="433" width="1" height="36" fill="#737375"/>
<rect x="878" y="435" width="5" height="16" fill="#5e150c"/>
<rect x="879" y="436" width="3" height="14" fill="#dd5843"/>
<rect x="888" y="403" width="1" height="45" fill="#737375"/>
<rect x="886" y="438" width="5" height="4" fill="#5e150c"/>
<rect x="887" y="439" width="3" height="2" fill="#dd5843"/>
<rect x="896" y="417" width="1" height="38" fill="#737375"/>
<rect x="894" y="423" width="5" height="20" fill="#1d5a36"/>
<rect x="895" y="424" width="3" height="18" fill="#6caa84"/>
<rect x="903" y="372" width="1" height="58" fill="#737375"/>
<rect x="901" y="388" width="5" height="36" fill="#1d5a36"/>
<rect x="902" y="389" width="3" height="34" fill="#6caa84"/>
<rect x="911" y="389" width="1" height="55" fill="#737375"/>
<rect x="909" y="389" width="5" height="8" fill="#5e150c"/>
<rect x="910" y="390" width="3" height="6" fill="#dd5843"/>
<rect x="919" y="352" width="1" height="53" fill="#737375"/>
<rect x="917" y="391" width="5" height="7" fill="#5e150c"/>
<rect x="918" y="392" width="3" height="5" fill="#dd5843"/>
<rect x="927" y="359" width="1" height="44" fill="#737375"/>
<rect x="925" y="360" width="5" height="31" fill="#1d5a36"/>
<rect x="926" y="361" width="3" height="29" fill="#6caa84"/>
<rect x="935" y="259" width="1" height="95" fill="#737375"/>
<rect x="933" y="329" width="5" height="17" fill="#1d5a36"/>
<rect x="934" y="330" width="3" height="15" fill="#6caa84"/>
<rect x="942" y="304" width="1" height="96" fill="#737375"/>
<rect x="940" y="324" width="5" height="73" fill="#5e150c"/>
<rect x="941" y="325" width="3" height="71" fill="#dd5843"/>
<rect x="950" y="334" width="1" height="64" fill="#737375"/>
<rect x="948" y="343" width="5" height="42" fill="#1d5a36"/>
<rect x="949" y="344" width="3" height="40" fill="#6caa84"/>
<rect x="958" y="313" width="1" height="43" fill="#737375"/>
<rect x="956" y="317" width="5" height="29" fill="#1d5a36"/>
<rect x="957" y="318" width="3" height="27" fill="#6caa84"/>
<rect x="966" y="226" width="1" height="94" fill="#737375"/>
<rect x="964" y="317" width="5" height="1" fill="#1d5a36"/>
<rect x="974" y="273" width="1" height="44" fill="#737375"/>
<rect x="972" y="279" width="5" height="34" fill="#1d5a36"/>
<rect x="973" y="280" width="3" height="32" fill="#6caa84"/>
<rect x="981" y="268" width="1" height="43" fill="#737375"/>
<rect x="979" y="277" width="5" height="12" fill="#1d5a36"/>
<rect x="980" y="278" width="3" height="10" fill="#6caa84"/>
<rect x="989" y="254" width="1" height="27" fill="#737375"/>
<rect x="987" y="271" width="5" height="8" fill="#1d5a36"/>
<rect x="988" y="272" width="3" height="6" fill="#6caa84"/>
<rect x="997" y="231" width="1" height="42" fill="#737375"/>
<rect x="995" y="260" width="5" height="7" fill="#1d5a36"/>
<rect x="996" y="261" width="3" height="5" fill="#6caa84"/>
<rect x="1005" y="235" width="1" height="42" fill="#737375"/>
<rect x="1003" y="252" width="5" height="12" fill="#5e150c"/>
<rect x="1004" y="253" width="3" height="10" fill="#dd5843"/>
<rect x="1013" y="242" width="1" height="28" fill="#737375"/>
<rect x="1011" y="255" width="5" height="8" fill="#1d5a36"/>
<rect x="1012" y="256" width="3" height="6" fill="#6caa84"/>
<rect x="1020" y="226" width="1" height="64" fill="#737375"/>
<rect x="1018" y="248" width="5" height="23" fill="#5e150c"/>
<rect x="1019" y="249" width="3" height="21" fill="#dd5843"/>
<rect x="1028" y="244" width="1" height="78" fill="#737375"/>
<rect x="1026" y="275" width="5" height="12" fill="#5e150c"/>
<rect x="1027" y="276" width="3" height="10" fill="#dd5843"/>
<rect x="1036" y="257" width="1" height="45" fill="#737375"/>
<rect x="1034" y="279" width="5" height="6" fill="#1d5a36"/>
<rect x="1035" y="280" width="3" height="4" fill="#6caa84"/>
<rect x="1044" y="276" width="1" height="48" fill="#737375"/>
<rect x="1042" y="276" width="5" height="26" fill="#5e150c"/>
<rect x="1043" y="277" width="3" height="24" fill="#dd5843"/>
<rect x="1052" y="259" width="1" height="72" fill="#737375"/>
<rect x="1050" y="263" width="5" height="32" fill="#1d5a36"/>
<rect x="1051" y="264" width="3" height="30" fill="#6caa84"/>
<rect x="1059" y="263" width="1" height="41" fill="#737375"/>
<rect x="1057" y="267" width="5" height="34" fill="#5e150c"/>
<rect x="1058" y="268" width="3" height="32" fill="#dd5843"/>
<rect x="1067" y="295" width="1" height="31" fill="#737375"/>
<rect x="1065" y="299" width="5" height="18" fill="#5e150c"/>
<rect x="1066" y="300" width="3" height="16" fill="#dd5843"/>
<rect x="1075" y="284" width="1" height="95" fill="#737375"/>
<rect x="1073" y="309" width="5" height="54" fill="#5e150c"/>
<rect x="1074" y="310" width="3" height="52" fill="#dd5843"/>
<rect x="1083" y="314" width="1" height="50" fill="#737375"/>
<rect x="1081" y="334" width="5" height="29" fill="#1d5a36"/>
<rect x="1082" y="335" width="3" height="27" fill="#6caa84"/>
<rect x="1091" y="326" width="1" height="52" fill="#737375"/>
<rect x="1089" y="338" width="5" height="28" fill="#5e150c"/>
<rect x="1090" y="339" width="3" height="26" fill="#dd5843"/>
<rect x="1098" y="370" width="1" height="44" fill="#737375"/>
<rect x="1096" y="382" width="5" height="25" fill="#5e150c"/>
<rect x="1097" y="383" width="3" height="23" fill="#dd5843"/>
<rect x="1106" y="408" width="1" height="105" fill="#737375"/>
<rect x="1104" y="408" width="5" height="82" fill="#5e150c"/>
<rect x="1105" y="409" width="3" height="80" fill="#dd5843"/>
<rect x="1114" y="451" width="1" height="46" fill="#737375"/>
<rect x="1112" y="454" width="5" height="33" fill="#1d5a36"/>
<rect x="1113" y="455" width="3" height="31" fill="#6caa84"/>
<rect x="1122" y="419" width="1" height="58" fill="#737375"/>
<rect x="1120" y="448" width="5" height="5" fill="#1d5a36"/>
<rect x="1121" y="449" width="3" height="3" fill="#6caa84"/>
<rect x="1130" y="432" width="1" height="40" fill="#737375"/>
<rect x="1128" y="432" width="5" height="13" fill="#5e150c"/>
<rect x="1129" y="433" width="3" height="11" fill="#dd5843"/>
<rect x="1138" y="416" width="1" height="49" fill="#737375"/>
<rect x="1136" y="434" width="5" height="11" fill="#1d5a36"/>
<rect x="1137" y="435" width="3" height="9" fill="#6caa84"/>
<rect x="1145" y="406" width="1" height="35" fill="#737375"/>
<rect x="1143" y="424" width="5" height="7" fill="#1d5a36"/>
<rect x="1144" y="425" width="3" height="5" fill="#6caa84"/>
<rect x="1153" y="391" width="1" height="44" fill="#737375"/>
<rect x="1151" y="391" width="5" height="32" fill="#1d5a36"/>
<rect x="1152" y="392" width="3" height="30" fill="#6caa84"/>
<rect x="1161" y="317" width="1" height="81" fill="#737375"/>
<rect x="1159" y="322" width="5" height="75" fill="#1d5a36"/>
<rect x="1160" y="323" width="3" height="73" fill="#6caa84"/>
<rect x="1169" y="308" width="1" height="28" fill="#737375"/>
<rect x="1167" y="312" width="5" height="23" fill="#1d5a36"/>
<rect x="1168" y="313" width="3" height="21" fill="#6caa84"/>
<rect x="1177" y="292" width="1" height="35" fill="#737375"/>
<rect x="1175" y="297" width="5" height="17" fill="#1d5a36"/>
<rect x="1176" y="298" width="3" height="15" fill="#6caa84"/>
<rect x="1184" y="288" width="1" height="68" fill="#737375"/>
<rect x="1182" y="307" width="5" height="42" fill="#5e150c"/>
<rect x="1183" y="308" width="3" height="40" fill="#dd5843"/>
<rect x="1192" y="301" width="1" height="59" fill="#737375"/>
<rect x="1190" y="321" width="5" height="25" fill="#1d5a36"/>
<rect x="1191" y="322" width="3" height="23" fill="#6caa84"/>
<rect x="1200" y="292" width="1" height="60" fill="#737375"/>
<rect x="1198" y="308" width="5" height="25" fill="#5e150c"/>
<rect x="1199" y="309" width="3" height="23" fill="#dd5843"/>
<rect x="1208" y="304" width="1" height="56" fill="#737375"/>
<rect x="1206" y="337" width="5" height="10" fill="#1d5a36"/>
<rect x="1207" y="338" width="3" height="8" fill="#6caa84"/>
<rect x="1216" y="280" width="1" height="64" fill="#737375"/>
<rect x="1214" y="283" width="5" height="55" fill="#1d5a36"/>
<rect x="1215" y="284" width="3" height="53" fill="#6caa84"/>
<rect x="1223" y="273" width="1" height="66" fill="#737375"/>
<rect x="1221" y="283" width="5" height="48" fill="#5e150c"/>
<rect x="1222" y="284" width="3" height="46" fill="#dd5843"/>
<rect x="1231" y="319" width="1" height="47" fill="#737375"/>
<rect x="1229" y="330" width="5" height="18" fill="#5e150c"/>
<rect x="1230" y="331" width="3" height="16" fill="#dd5843"/>
<rect x="1239" y="350" width="1" height="43" fill="#737375"/>
<rect x="1237" y="350" width="5" height="13" fill="#5e150c"/>
<rect x="1238" y="351" width="3" height="11" fill="#dd5843"/>
<rect x="1247" y="364" width="1" height="30" fill="#737375"/>
<rect x="1245" y="365" width="5" height="6" fill="#5e150c"/>
<rect x="1246" y="366" width="3" height="4" fill="#dd5843"/>
<rect x="1255" y="370" width="1" height="96" fill="#737375"/>
<rect x="1253" y="372" width="5" height="78" fill="#5e150c"/>
<rect x="1254" y="373" width="3" height="76" fill="#dd5843"/>
<rect x="1262" y="365" width="1" height="82" fill="#737375"/>
<rect x="1260" y="384" width="5" height="60" fill="#1d5a36"/>
<rect x="1261" y="385" width="3" height="58" fill="#6caa84"/>
<rect x="1270" y="337" width="1" height="53" fill="#737375"/>
<rect x="1268" y="338" width="5" height="50" fill="#1d5a36"/>
<rect x="1269" y="339" width="3" height="48" fill="#6caa84"/>
<rect x="1278" y="261" width="1" height="84" fill="#737375"/>
<rect x="1276" y="280" width="5" height="61" fill="#1d5a36"/>
<rect x="1277" y="281" width="3" height="59" fill="#6caa84"/>
<rect x="1286" y="247" width="1" height="41" fill="#737375"/>
<rect x="1284" y="249" width="5" height="29" fill="#1d5a36"/>
<rect x="1285" y="250" width="3" height="27" fill="#6caa84"/>
<rect x="1294" y="241" width="1" height="37" fill="#737375"/>
<rect x="1292" y="254" width="5" height="13" fill="#5e150c"/>
<rect x="1293" y="255" width="3" height="11" fill="#dd5843"/>
<rect x="1301" y="261" width="1" height="79" fill="#737375"/>
<rect x="1299" y="271" width="5" height="48" fill="#5e150c"/>
<rect x="1300" y="272" width="3" height="46" fill="#dd5843"/>
<rect x="1309" y="280" width="1" height="38" fill="#737375"/>
<rect x="1307" y="284" width="5" height="25" fill="#1d5a36"/>
<rect x="1308" y="285" width="3" height="23" fill="#6caa84"/>
<rect x="1317" y="266" width="1" height="33" fill="#737375"/>
<rect x="1315" y="269" width="5" height="22" fill="#1d5a36"/>
<rect x="1316" y="270" width="3" height="20" fill="#6caa84"/>
<rect x="1325" y="271" width="1" height="27" fill="#737375"/>
<rect x="1323" y="282" width="5" height="11" fill="#5e150c"/>
<rect x="1324" y="283" width="3" height="9" fill="#dd5843"/>
<rect x="1333" y="281" width="1" height="23" fill="#737375"/>
<rect x="1331" y="288" width="5" height="9" fill="#1d5a36"/>
<rect x="1332" y="289" width="3" height="7" fill="#6caa84"/>
<rect x="1340" y="286" width="1" height="66" fill="#737375"/>
<rect x="1338" y="290" width="5" height="58" fill="#5e150c"/>
<rect x="1339" y="291" width="3" height="56" fill="#dd5843"/>
<rect x="1348" y="297" width="1" height="50" fill="#737375"/>
<rect x="1346" y="306" width="5" height="41" fill="#1d5a36"/>
<rect x="1347" y="307" width="3" height="39" fill="#6caa84"/>
<rect x="1356" y="283" width="1" height="41" fill="#737375"/>
<rect x="1354" y="290" width="5" height="10" fill="#1d5a36"/>
<rect x="1355" y="291" width="3" height="8" fill="#6caa84"/>
<rect x="1364" y="291" width="1" height="49" fill="#737375"/>
<rect x="1362" y="291" width="5" height="34" fill="#5e150c"/>
<rect x="1363" y="292" width="3" height="32" fill="#dd5843"/>
<rect x="1372" y="314" width="1" height="46" fill="#737375"/>
<rect x="1370" y="329" width="5" height="4" fill="#1d5a36"/>
<rect x="1371" y="330" width="3" height="2" fill="#6caa84"/>
<rect x="1379" y="278" width="1" height="51" fill="#737375"/>
<rect x="1377" y="317" width="5" height="11" fill="#1d5a36"/>
<rect x="1378" y="318" width="3" height="9" fill="#6caa84"/>
<rect x="1387" y="271" width="1" height="58" fill="#737375"/>
<rect x="1385" y="286" width="5" height="38" fill="#1d5a36"/>
<rect x="1386" y="287" width="3" height="36" fill="#6caa84"/>
<rect x="1395" y="269" width="1" height="54" fill="#737375"/>
<rect x="1393" y="285" width="5" height="33" fill="#5e150c"/>
<rect x="1394" y="286" width="3" height="31" fill="#dd5843"/>
<rect x="1403" y="284" width="1" height="67" fill="#737375"/>
<rect x="1401" y="285" width="5" height="39" fill="#1d5a36"/>
<rect x="1402" y="286" width="3" height="37" fill="#6caa84"/>
<rect x="1411" y="229" width="1" height="52" fill="#737375"/>
<rect x="1409" y="236" width="5" height="46" fill="#1d5a36"/>
<rect x="1410" y="237" width="3" height="44" fill="#6caa84"/>
<rect x="1419" y="231" width="1" height="11" fill="#737375"/>
<rect x="1417" y="238" width="5" height="4" fill="#1d5a36"/>
<rect x="1418" y="239" width="3" height="2" fill="#6caa84"/>
</g>
<polyline points="2.9,717.7 9.7,718.9 20.7,722.5 29.2,720.1 36.4,710.4 48.6,711.1 59.5,712.3 68.0,706.7 82.6,709.6 92.3,712.3 98.4,713.3 106.9,704.3 113.0,703.1 122.7,707.2 131.2,708.4 138.5,712.1 145.8,712.1 155.5,713.5 170.1,714.0 176.1,715.2 184.6,708.7 193.2,703.8 201.7,703.3 208.9,704.8 216.2,704.8 230.8,707.5 240.5,706.2 247.8,706.7 255.1,699.4 267.2,700.9 281.8,701.4 294.0,704.3 301.3,703.3 315.8,704.5 325.6,706.7 334.1,703.6 340.1,706.2 347.4,705.5 357.1,707.2 364.9,707.2 373.4,705.3 386.7,704.5 396.4,703.6 403.7,703.3 418.3,707.5 426.8,697.7 435.3,700.7 442.6,700.7 451.1,704.3 459.6,701.4 469.3,699.0 481.5,696.3 491.2,697.5 500.9,696.0 511.8,694.1 520.4,688.7 527.6,689.2 534.9,688.0 544.6,688.5 551.9,686.8 560.4,688.5 567.7,686.1 575.0,690.2 583.5,691.2 596.9,694.6 606.6,694.8 615.1,690.2 622.4,687.5 629.7,686.6 637.0,688.5 646.7,689.7 654.0,691.7 661.3,693.1 669.8,690.0 677.1,690.0 685.6,691.9 692.9,692.6 700.1,691.2 708.6,691.4 717.1,695.1 724.9,699.4 732.1,700.2 739.4,697.7 746.7,696.3 754.0,696.5 762.5,698.0 771.0,695.8 778.3,695.3 785.6,694.8 794.1,699.0 802.6,701.9 809.9,704.1 818.4,707.2 826.9,709.9 834.2,712.3 841.5,713.0 848.8,714.7 856.1,710.9 864.6,710.4 871.8,711.3 880.3,713.0 887.6,714.3 896.1,716.4 904.6,716.0 914.4,716.0 926.5,717.4 933.8,712.3 941.1,707.7 949.6,707.2 956.9,709.4 965.9,705.3 972.7,707.0 981.2,709.4 989.7,713.0 997.0,714.5 1005.5,716.4 1012.8,719.4 1021.3,717.9 1028.6,715.7 1035.9,716.7 1044.3,717.4 1051.6,715.5 1058.9,716.9 1066.2,719.4 1074.7,714.5 1084.4,715.5 1089.7,715.5 1098.2,716.4 1106.2,710.4 1114.0,711.6 1122.5,711.6 1129.8,713.3 1138.3,714.5 1145.6,716.9 1152.9,717.9 1160.9,715.0 1168.7,717.7 1177.2,720.3 1184.5,718.4 1194.2,717.7 1201.5,717.2 1211.2,716.7 1223.3,714.7 1231.8,715.7 1239.1,716.9 1247.2,719.4 1254.9,714.3 1262.2,711.1 1270.7,711.3 1278.0,708.7 1286.5,711.1 1293.8,713.3 1301.1,710.6 1309.6,713.0 1318.1,715.7 1325.4,718.4 1332.7,721.5 1340.0,719.8 1348.5,720.1 1357.0,721.3 1365.5,721.5 1374.0,722.0 1383.7,721.3 1394.6,720.6 1403.1,718.9 1410.4,718.9 1418.9,723.7" fill="none" stroke="#b22833" stroke-width="1.1" stroke-linejoin="round"/>
<polyline points="3.0,771.1 6.0,769.5 13.0,767.5 21.0,768.6 29.0,780.2 37.0,792.6 45.0,794.7 53.0,788.3 60.0,784.0 68.0,774.2 76.0,767.3 84.0,765.7 92.0,766.8 99.0,763.0 107.0,749.3 115.0,743.3 123.0,743.3 131.0,744.9 138.0,747.5 146.0,750.5 154.0,751.8 162.0,752.9 170.0,753.2 177.0,755.2 185.0,761.5 193.0,765.7 201.0,765.9 209.0,765.4 216.0,767.7 224.0,765.7 232.0,764.1 240.0,769.9 248.0,775.1 255.0,786.3 263.0,790.5 271.0,790.4 279.0,789.5 287.0,784.3 294.0,781.4 302.0,776.9 310.0,773.8 318.0,771.7 326.0,768.5 334.0,763.7 341.0,760.0 349.0,762.4 357.0,760.2 365.0,759.3 373.0,762.8 380.0,763.7 388.0,760.9 396.0,756.2 404.0,749.9 412.0,749.9 419.0,751.6 427.0,740.1 435.0,736.0 443.0,743.1 451.0,747.2 458.0,747.1 466.0,750.6 474.0,752.5 482.0,757.3 490.0,759.6 497.0,761.8 505.0,763.2 513.0,761.2 521.0,768.7 529.0,774.4 536.0,781.2 544.0,779.5 552.0,775.5 560.0,773.2 568.0,763.9 575.0,760.5 583.0,758.8 591.0,760.7 599.0,759.7 607.0,754.1 615.0,760.8 622.0,773.5 630.0,783.1 638.0,785.8 646.0,781.7 654.0,777.6 661.0,780.2 669.0,782.4 677.0,778.3 685.0,776.2 693.0,774.2 700.0,767.8 708.0,768.2 716.0,768.0 724.0,768.7 732.0,769.1 739.0,766.8 747.0,769.9 755.0,765.9 763.0,761.0 771.0,746.8 778.0,753.6 786.0,745.6 794.0,746.4 802.0,750.9 810.0,752.5 817.0,753.4 825.0,753.1 833.0,756.9 841.0,765.8 849.0,768.9 857.0,762.8 864.0,747.6 872.0,750.0 880.0,757.5 888.0,751.7 896.0,752.8 903.0,740.2 911.0,746.6 919.0,740.5 927.0,742.1 935.0,731.9 942.0,748.8 950.0,749.5 958.0,746.6 966.0,742.9 974.0,746.4 981.0,748.2 989.0,748.0 997.0,748.1 1005.0,750.3 1013.0,751.6 1020.0,753.6 1028.0,757.4 1036.0,757.4 1044.0,761.3 1052.0,759.3 1059.0,760.8 1067.0,767.3 1075.0,776.4 1083.0,776.6 1091.0,780.3 1098.0,789.6 1106.0,799.5 1114.0,791.2 1122.0,783.4 1130.0,780.6 1138.0,777.3 1145.0,774.2 1153.0,771.1 1161.0,763.1 1169.0,758.8 1177.0,756.5 1184.0,759.6 1192.0,758.6 1200.0,758.0 1208.0,758.7 1216.0,753.5 1223.0,755.3 1231.0,760.1 1239.0,763.8 1247.0,764.8 1255.0,773.0 1262.0,769.2 1270.0,762.3 1278.0,751.6 1286.0,745.7 1294.0,746.9 1301.0,757.6 1309.0,755.1 1317.0,752.2 1325.0,755.4 1333.0,756.7 1340.0,765.7 1348.0,763.1 1356.0,759.1 1364.0,764.0 1372.0,767.4 1379.0,761.1 1387.0,758.6 1395.0,761.0 1403.0,762.6 1411.0,744.6 1419.0,741.2" fill="none" stroke="#2962ff" stroke-width="1.1" stroke-linejoin="round"/>
<g shape-rendering="crispEdges">
<rect x="1460" y="3" width="1" height="828" fill="#4a4a4a"/>
<rect x="3" y="804" width="1517" height="1" fill="#4a4a4a"/>
<rect x="3" y="683" width="1517" height="1" fill="#e0e3eb"/>
<rect x="3" y="727" width="1517" height="1" fill="#e0e3eb"/>
</g>
<g font-family='"Liberation Sans", Arial, sans-serif'>
<text x="1468.2" y="48.6" font-size="12.3" fill="#555555" text-anchor="start" font-weight="normal" textLength="35.2" lengthAdjust="spacingAndGlyphs">8000.0</text>
<text x="1468.2" y="80.0" font-size="12.3" fill="#555555" text-anchor="start" font-weight="normal" textLength="35.2" lengthAdjust="spacingAndGlyphs">7960.0</text>
<text x="1468.2" y="111.5" font-size="12.3" fill="#555555" text-anchor="start" font-weight="normal" textLength="35.2" lengthAdjust="spacingAndGlyphs">7920.0</text>
<text x="1468.2" y="142.9" font-size="12.3" fill="#555555" text-anchor="start" font-weight="normal" textLength="35.2" lengthAdjust="spacingAndGlyphs">7880.0</text>
<text x="1468.2" y="174.3" font-size="12.3" fill="#555555" text-anchor="start" font-weight="normal" textLength="35.2" lengthAdjust="spacingAndGlyphs">7840.0</text>
<text x="1468.2" y="205.7" font-size="12.3" fill="#555555" text-anchor="start" font-weight="normal" textLength="35.2" lengthAdjust="spacingAndGlyphs">7800.0</text>
<text x="1468.2" y="268.6" font-size="12.3" fill="#555555" text-anchor="start" font-weight="normal" textLength="35.2" lengthAdjust="spacingAndGlyphs">7720.0</text>
<text x="1468.2" y="300.0" font-size="12.3" fill="#555555" text-anchor="start" font-weight="normal" textLength="35.2" lengthAdjust="spacingAndGlyphs">7680.0</text>
<text x="1468.2" y="331.4" font-size="12.3" fill="#555555" text-anchor="start" font-weight="normal" textLength="35.2" lengthAdjust="spacingAndGlyphs">7640.0</text>
<text x="1468.2" y="362.8" font-size="12.3" fill="#555555" text-anchor="start" font-weight="normal" textLength="35.2" lengthAdjust="spacingAndGlyphs">7600.0</text>
<text x="1468.2" y="394.2" font-size="12.3" fill="#555555" text-anchor="start" font-weight="normal" textLength="35.2" lengthAdjust="spacingAndGlyphs">7560.0</text>
<text x="1468.2" y="425.7" font-size="12.3" fill="#555555" text-anchor="start" font-weight="normal" textLength="35.2" lengthAdjust="spacingAndGlyphs">7520.0</text>
<text x="1468.2" y="457.1" font-size="12.3" fill="#555555" text-anchor="start" font-weight="normal" textLength="35.2" lengthAdjust="spacingAndGlyphs">7480.0</text>
<text x="1468.2" y="488.5" font-size="12.3" fill="#555555" text-anchor="start" font-weight="normal" textLength="35.2" lengthAdjust="spacingAndGlyphs">7440.0</text>
<text x="1468.2" y="519.9" font-size="12.3" fill="#555555" text-anchor="start" font-weight="normal" textLength="35.2" lengthAdjust="spacingAndGlyphs">7400.0</text>
<text x="1468.2" y="551.3" font-size="12.3" fill="#555555" text-anchor="start" font-weight="normal" textLength="35.2" lengthAdjust="spacingAndGlyphs">7360.0</text>
<text x="1468.2" y="582.8" font-size="12.3" fill="#555555" text-anchor="start" font-weight="normal" textLength="35.2" lengthAdjust="spacingAndGlyphs">7320.0</text>
<text x="1468.2" y="614.2" font-size="12.3" fill="#555555" text-anchor="start" font-weight="normal" textLength="35.2" lengthAdjust="spacingAndGlyphs">7280.0</text>
<text x="1468.2" y="645.6" font-size="12.3" fill="#555555" text-anchor="start" font-weight="normal" textLength="35.2" lengthAdjust="spacingAndGlyphs">7240.0</text>
<text x="1468.2" y="677.0" font-size="12.3" fill="#555555" text-anchor="start" font-weight="normal" textLength="35.2" lengthAdjust="spacingAndGlyphs">7200.0</text>
<text x="1468.2" y="714.85" font-size="12.3" fill="#555555" text-anchor="start" font-weight="normal" textLength="23.2" lengthAdjust="spacingAndGlyphs">75.0</text>
<text x="1468.2" y="737.1" font-size="12.3" fill="#555555" text-anchor="start" font-weight="normal" textLength="35.2" lengthAdjust="spacingAndGlyphs">250.00</text>
<text x="1468.2" y="768.9" font-size="12.3" fill="#555555" text-anchor="start" font-weight="normal" textLength="23.2" lengthAdjust="spacingAndGlyphs">0.00</text>
<text x="1468.2" y="799.8" font-size="12.3" fill="#555555" text-anchor="start" font-weight="normal" textLength="41.5" lengthAdjust="spacingAndGlyphs">−250.00</text>
<path d="M1460 85H1506.5Q1509 85 1509 87.5V99.5Q1509 102 1506.5 102H1460Z" fill="#000"/>
<text x="1468" y="97.6" font-size="12" fill="#fff" text-anchor="start" font-weight="bold" textLength="34.5" lengthAdjust="spacingAndGlyphs">7937.4</text>
<path d="M1460 218H1506.5Q1509 218 1509 220.5V232.5Q1509 235 1506.5 235H1460Z" fill="#000"/>
<text x="1468" y="230.6" font-size="12" fill="#fff" text-anchor="start" font-weight="bold" textLength="34.5" lengthAdjust="spacingAndGlyphs">7767.9</text>
<path d="M1460 235H1506.5Q1509 235 1509 237.5V249.5Q1509 252 1506.5 252H1460Z" fill="#000"/>
<text x="1468" y="247.6" font-size="12" fill="#fff" text-anchor="start" font-weight="bold" textLength="34.5" lengthAdjust="spacingAndGlyphs">7747.4</text>
</g>
<g font-family='"Liberation Sans", Arial, sans-serif' font-size="12.3" fill="#555555" text-anchor="middle">
<text x="13.6" y="821.7" textLength="15.4" lengthAdjust="spacingAndGlyphs">Jul</text>
<text x="177.25" y="821.7" textLength="19.7" lengthAdjust="spacingAndGlyphs">Aug</text>
<text x="263.1" y="821.7" textLength="12.2" lengthAdjust="spacingAndGlyphs">16</text>
<text x="357" y="821.7" textLength="18.3" lengthAdjust="spacingAndGlyphs">Sep</text>
<text x="520.65" y="821.7" textLength="18.9" lengthAdjust="spacingAndGlyphs">Oct</text>
<text x="606.7" y="821.7" textLength="12.3" lengthAdjust="spacingAndGlyphs">17</text>
<text x="692.75" y="821.7" textLength="20.5" lengthAdjust="spacingAndGlyphs">Nov</text>
<text x="778.3" y="821.7" textLength="12.6" lengthAdjust="spacingAndGlyphs">16</text>
<text x="864.05" y="821.7" textLength="19.7" lengthAdjust="spacingAndGlyphs">Dec</text>
<text x="1106.2" y="821.7" textLength="11.8" lengthAdjust="spacingAndGlyphs">17</text>
<text x="1192.3" y="821.7" textLength="19.2" lengthAdjust="spacingAndGlyphs">Feb</text>
<text x="1356.5" y="821.7" textLength="19.5" lengthAdjust="spacingAndGlyphs">Mar</text>
<text x="1442.35" y="821.7" textLength="11.3" lengthAdjust="spacingAndGlyphs">18</text>
<text x="1021.2" y="821.7" font-weight="bold" textLength="27" lengthAdjust="spacingAndGlyphs">2024</text>
</g>
<g font-family='"Liberation Sans", Arial, sans-serif'>
<rect x="7" y="7" width="584.5" height="24" fill="#fff" fill-opacity="0.6"/>
<rect x="7" y="33" width="149" height="27" fill="#fff" fill-opacity="0.6"/>
<rect x="7" y="64" width="542" height="22" fill="#fff" fill-opacity="0.6"/>
<rect x="7" y="692" width="110" height="20" fill="#fff" fill-opacity="0.6"/>
<rect x="7" y="736" width="160" height="20" fill="#fff" fill-opacity="0.6"/>
<circle cx="21" cy="19" r="9" fill="#e0e3eb"/>
<text x="21.3" y="23.2" font-size="12" fill="#fff" text-anchor="middle" font-weight="bold">F</text>
<text x="34.6" y="24.9" font-size="15.4" fill="#555555" text-anchor="start" font-weight="normal" textLength="208.3" lengthAdjust="spacingAndGlyphs">UK 100, Daily · 1D · SPREADEX</text>
<circle cx="267" cy="19" r="9" fill="#089981" fill-opacity="0.14"/>
<circle cx="267" cy="19" r="4.1" fill="#089981"/>
<text x="292" y="23.8" font-size="13" fill="#555555" textLength="47.5" lengthAdjust="spacingAndGlyphs">O<tspan fill="#1e6b47">7750.4</tspan></text>
<text x="347.1" y="23.8" font-size="13" fill="#555555" textLength="47.5" lengthAdjust="spacingAndGlyphs">H<tspan fill="#1e6b47">7762.4</tspan></text>
<text x="401.3" y="23.8" font-size="13" fill="#555555" textLength="45.5" lengthAdjust="spacingAndGlyphs">L<tspan fill="#1e6b47">7747.4</tspan></text>
<text x="453.5" y="23.8" font-size="13" fill="#555555" textLength="47" lengthAdjust="spacingAndGlyphs">C<tspan fill="#1e6b47">7753.4</tspan></text>
<text x="508.2" y="23.8" font-size="13" fill="#1e6b47" textLength="22.5" lengthAdjust="spacingAndGlyphs">−2.5</text>
<text x="537.3" y="23.8" font-size="13" fill="#1e6b47" textLength="47.9" lengthAdjust="spacingAndGlyphs">(−0.03%)</text>
<rect x="12" y="35.5" width="53" height="22" rx="4" fill="#fff" stroke="#f23645" stroke-width="1"/>
<text x="19.9" y="51.9" font-size="12.5" fill="#f23645" text-anchor="start" font-weight="normal" textLength="37.4" lengthAdjust="spacingAndGlyphs">7752.9</text>
<text x="74.4" y="51.9" font-size="12.5" fill="#555555" text-anchor="start" font-weight="normal" textLength="15" lengthAdjust="spacingAndGlyphs">1.0</text>
<rect x="97.5" y="35.5" width="54" height="22" rx="4" fill="#fff" stroke="#2962ff" stroke-width="1"/>
<text x="106.5" y="51.9" font-size="12.5" fill="#2962ff" text-anchor="start" font-weight="normal" textLength="37.7" lengthAdjust="spacingAndGlyphs">7753.9</text>
<text x="12.2" y="80" font-size="12.5" fill="#555555" text-anchor="start" font-weight="normal" textLength="382.6" lengthAdjust="spacingAndGlyphs">MA Ribbon SMA close 20 SMA close 50 SMA close 100 SMA close 200</text>
<text x="403.9" y="80" font-size="12.5" fill="#f23645" text-anchor="start" font-weight="normal" textLength="37.5" lengthAdjust="spacingAndGlyphs">7683.3</text>
<text x="448.7" y="80" font-size="12.5" fill="#2962ff" text-anchor="start" font-weight="normal" textLength="37.9" lengthAdjust="spacingAndGlyphs">7632.2</text>
<text x="493.2" y="80" font-size="12.5" fill="#131722" text-anchor="start" font-weight="normal" textLength="7.7" lengthAdjust="spacingAndGlyphs">∅</text>
<text x="507.7" y="80" font-size="12.5" fill="#131722" text-anchor="start" font-weight="normal" textLength="37.5" lengthAdjust="spacingAndGlyphs">7545.5</text>
<rect x="13.5" y="89.5" width="27" height="19.5" rx="4" fill="#fff" fill-opacity="0.75" stroke="#d1d4dc" stroke-width="1"/>
<polyline points="22.5,102 26.8,98 31,102" fill="none" stroke="#131722" stroke-width="1.3"/>
<text x="12.5" y="704.7" font-size="12.5" fill="#555555" text-anchor="start" font-weight="normal" textLength="66.4" lengthAdjust="spacingAndGlyphs">ATR 14 RMA</text>
<text x="87.6" y="704.7" font-size="12.5" fill="#b22833" text-anchor="start" font-weight="normal" textLength="24.5" lengthAdjust="spacingAndGlyphs">64.2</text>
<text x="12.5" y="748.9" font-size="12.5" fill="#555555" text-anchor="start" font-weight="normal" textLength="100.7" lengthAdjust="spacingAndGlyphs">CCI 20 hlc3 SMA 5</text>
<text x="123.6" y="748.9" font-size="12.5" fill="#2962ff" text-anchor="start" font-weight="normal" textLength="36.9" lengthAdjust="spacingAndGlyphs">185.74</text>
<rect x="13" y="773" width="34" height="19" rx="2" fill="#fff"/>
<path d="M15.1 775.1H26.8V789.8H21V781H15.1Z" fill="#131722"/>
<circle cx="31.9" cy="778" r="2.9" fill="#131722"/>
<path d="M38.6 775.1H44.7L38.8 789.8H32.1Z" fill="#131722"/>
<rect x="1464.5" y="7.5" width="51" height="25" rx="5" fill="#fff" stroke="#e0e3eb" stroke-width="1"/>
<text x="1468.4" y="24.3" font-size="12.5" fill="#131722" text-anchor="start" font-weight="normal" textLength="21" lengthAdjust="spacingAndGlyphs">GBP</text>
<polyline points="1506,19 1508.5,21.5 1511,19" fill="none" stroke="#131722" stroke-width="1.2"/>
<path d="M1483.5 818.4L1486.5 812.7H1494L1497 818.4L1494 824.2H1486.5Z" fill="none" stroke="#131722" stroke-width="1.1"/>
<circle cx="1490.3" cy="818.4" r="2.2" fill="none" stroke="#131722" stroke-width="1.1"/>
</g>
<g opacity="0.88" style="filter:drop-shadow(-3px 3px 2px rgba(0,0,0,0.55))"><text x="0" y="0" font-family='"Noto Sans CJK SC", "WenQuanYi Zen Hei", sans-serif' font-weight="700" font-size="58" fill="#fff" transform="translate(1274,790) skewX(-18)" textLength="235" lengthAdjust="spacingAndGlyphs">海马财经</text></g>
<g font-family='"Liberation Sans", Arial, sans-serif' font-weight="bold" font-style="italic" font-size="100" fill="#86c5ff" stroke="#86c5ff" stroke-width="3" stroke-linejoin="round" opacity="0.9" style="filter:drop-shadow(1.5px 1.5px 0.5px rgba(95,95,175,0.9))">
<text x="100" y="200" transform="matrix(0.3878 0 0 0.317 1249.22 763.4)">z</text>
<text x="100" y="200" transform="matrix(0.3796 0 0 0.317 1276.84 763.4)">z</text>
<text x="100" y="200" transform="matrix(0.3512 0 0 0.3167 1307.58 763.47)">r</text>
<text x="100" y="200" transform="matrix(0.3879 0 0 0.306 1327.56 765.3)">t</text>
<text x="100" y="200" transform="matrix(0.3706 0 0 0.3099 1349.06 764.72)">0</text>
<text x="100" y="200" transform="matrix(0.2625 0 0 0.3145 1394.93 764.1)">1</text>
<text x="100" y="200" transform="matrix(0.4176 0 0 0.42 1403.3 742.8)">.</text>
<text x="100" y="200" transform="matrix(0.3196 0 0 0.3145 1432.68 763.78)">c</text>
<text x="100" y="200" transform="matrix(0.3673 0 0 0.3278 1453.04 761.84)">n</text>
</g>
</svg>
</body></html>
